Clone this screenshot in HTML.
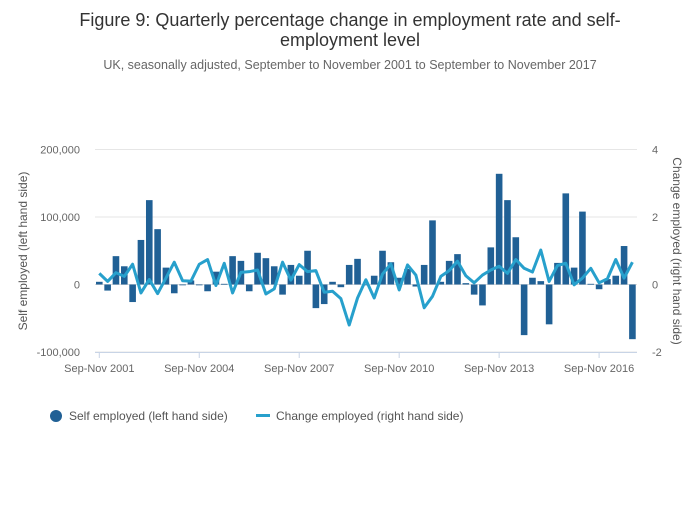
<!DOCTYPE html>
<html><head><meta charset="utf-8"><style>
body{margin:0;background:#fff;font-family:"Liberation Sans",sans-serif;}
</style></head><body>
<svg width="700" height="502" viewBox="0 0 700 502" id="chart" font-family="Liberation Sans, sans-serif">
<text x="350" y="26" text-anchor="middle" font-size="18" fill="#333">Figure 9: Quarterly percentage change in employment rate and self-</text>
<text x="350" y="46" text-anchor="middle" font-size="18" fill="#333">employment level</text>
<text x="350" y="69" text-anchor="middle" font-size="12.5" fill="#666">UK, seasonally adjusted, September to November 2001 to September to November 2017</text>
<text transform="translate(27,251) rotate(-90)" text-anchor="middle" font-size="12" fill="#555">Self employed (left hand side)</text>
<text transform="translate(673,251) rotate(90)" text-anchor="middle" font-size="12" fill="#555">Change employed (right hand side)</text>
<g id="grid"></g><g id="bars"></g><g id="line"></g><g id="axes"></g>
<g>
<circle cx="56" cy="416" r="6" fill="#206095"/>
<text x="69" y="420" font-size="12" fill="#555">Self employed (left hand side)</text>
<rect x="256" y="414" width="14" height="3" fill="#27a0cc"/>
<text x="276" y="420" font-size="12" fill="#555">Change employed (right hand side)</text>
</g>
</svg>
<script>
const selfEmployed=[4000,-9000,42000,27000,-26000,66000,125000,82000,25000,-13000,0,6000,0,-10000,19000,1000,42000,35000,-10000,47000,39000,27000,-15000,29000,13000,50000,-35000,-29000,4000,-4000,29000,38000,0,13000,50000,33000,10000,23000,-3000,29000,95000,4000,35000,45000,2000,-15000,-31000,55000,164000,125000,70000,-75000,10000,5000,-59000,32000,135000,25000,108000,1000,-7000,8000,13000,57000,-81000];
const changeEmployed=[0.33,0.09,0.35,0.24,0.6,-0.25,0.15,-0.27,0.19,0.66,0.11,0.1,0.6,0.74,-0.03,0.63,-0.25,0.36,0.38,0.43,-0.28,-0.13,0.66,0.13,0.59,0.38,0.41,-0.23,-0.2,-0.42,-1.2,-0.4,0.14,-0.4,0.31,0.61,-0.16,0.58,0.28,-0.69,-0.35,0.24,0.41,0.69,0.26,0.05,0.28,0.43,0.54,0.33,0.74,0.48,0.37,1.02,0.09,0.56,0.63,-0.01,0.19,0.48,0.05,0.17,0.74,0.19,0.66];
const leftTicks=[-100000,0,100000,200000];
const leftTickLabels=["-100,000","0","100,000","200,000"];
const rightTicks=[-2,0,2,4];
const xTickIndex=[0,12,24,36,48,60];
const xTickLabels=["Sep-Nov 2001","Sep-Nov 2004","Sep-Nov 2007","Sep-Nov 2010","Sep-Nov 2013","Sep-Nov 2016"];
const NS="http://www.w3.org/2000/svg";
const x=i=>99.3+i*8.33;
const yL=v=>284.5-v*0.000675;
const yR=v=>284.5-v*33.75;
function mk(t,a,p){const e=document.createElementNS(NS,t);for(const k in a)e.setAttribute(k,a[k]);document.getElementById(p).appendChild(e);return e;}
leftTicks.forEach((v,i)=>{
 const g=mk('line',{x1:95,x2:637,y1:yL(v),y2:yL(v),stroke:v===0?'#ddd':'#e6e6e6','stroke-width':1},'grid');
 
 
 const t=mk('text',{x:80,y:yL(v)+4,'text-anchor':'end','font-size':11,fill:'#666'},'axes');t.textContent=leftTickLabels[i];
 
 
});
rightTicks.forEach(v=>{
 const t=mk('text',{x:652,y:yR(v)+4,'text-anchor':'start','font-size':11,fill:'#666'},'axes');t.textContent=String(v);
 
 
});
const ax=mk('line',{x1:95,x2:637,y1:352.5,y2:352.5,stroke:'#c8d4e6','stroke-width':1},'axes');


xTickIndex.forEach((idx,i)=>{
 const l=mk('line',{x1:x(idx),x2:x(idx),y1:352,y2:358,stroke:'#c8d4e6'},'axes');
 
 
 const t=mk('text',{x:x(idx),y:372,'text-anchor':'middle','font-size':11,fill:'#666'},'axes');t.textContent=xTickLabels[i];
 
 
});
selfEmployed.forEach((v,i)=>{
 const y0=yL(0),y1=yL(v);
 const r=mk('rect',{x:x(i)-3.3,y:Math.min(y0,y1),width:6.6,height:Math.max(Math.abs(y1-y0),0.8),fill:'#206095'},'bars');
 
 
});
const p=mk('polyline',{points:changeEmployed.map((v,i)=>x(i)+','+yR(v)).join(' '),fill:'none',stroke:'#27a0cc','stroke-width':3,'stroke-linejoin':'round'},'line');


</script>
</body></html>
